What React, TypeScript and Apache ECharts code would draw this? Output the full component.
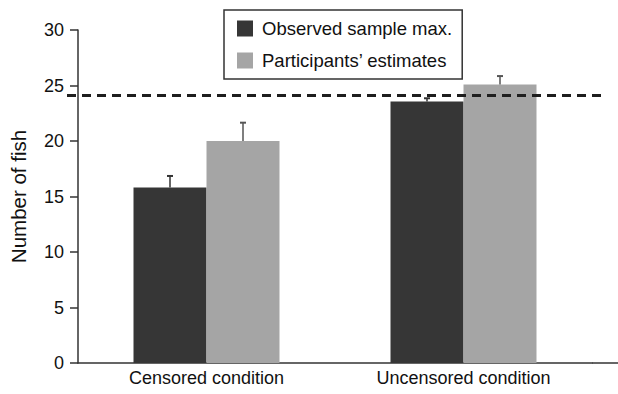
import React, { useEffect, useRef } from "react";
import * as echarts from "echarts";

const categories = ["Censored condition", "Uncensored condition"];
const observedMax = [15.8, 23.55];
const observedErr = [16.85, 23.85];
const estimates = [20.0, 25.1];
const estimatesErr = [21.65, 25.85];
const referenceLine = 24.1;
const yTicks = { min: 0, max: 30, interval: 5 };

const FONT = "'Liberation Sans', Arial, Helvetica, sans-serif";
const DARK = "#363636";
const LIGHT = "#a5a5a5";
const BAR_W = 73;

function errSeries(name: string, base: number[], tops: number[], sign: number, color: string) {
  return {
    type: "custom",
    name,
    xAxisIndex: 0,
    yAxisIndex: 0,
    z: 5,
    data: base.map((b, i) => [i, b, tops[i]]),
    renderItem: (_params: any, api: any) => {
      const x = api.value(0);
      const p1 = api.coord([x, api.value(1)]);
      const p2 = api.coord([x, api.value(2)]);
      const cx = p1[0] + sign * (BAR_W / 2);
      return {
        type: "group",
        children: [
          { type: "line", shape: { x1: cx, y1: p1[1], x2: cx, y2: p2[1] }, style: { stroke: color, lineWidth: 1.5 } },
          { type: "line", shape: { x1: cx - 3, y1: p2[1], x2: cx + 3, y2: p2[1] }, style: { stroke: color, lineWidth: 2 } },
        ],
      };
    },
  };
}

export default function App() {
  const ref = useRef<HTMLDivElement>(null);
  useEffect(() => {
    if (!ref.current) return;
    const chart = echarts.init(ref.current, null, { renderer: "svg" });
    chart.setOption({
      animation: false,
      backgroundColor: "#ffffff",
      textStyle: { fontFamily: FONT },
      grid: [
        { left: 77, right: 26, top: 30, bottom: 31 },
        { left: 67, right: 13, top: 30, bottom: 31 },
      ],
      legend: {
        orient: "vertical",
        left: 224,
        top: 10,
        padding: [9, 10, 9, 13],
        itemGap: 13,
        itemWidth: 16,
        itemHeight: 16,
        icon: "rect",
        borderColor: "#333",
        borderWidth: 1.5,
        backgroundColor: "#fff",
        textStyle: { fontSize: 18.5, color: "#111", fontFamily: FONT, padding: [0, 0, 0, 4] },
        data: ["Observed sample max.", "Participants\u2019 estimates"],
      },
      xAxis: [
        {
          type: "category",
          gridIndex: 0,
          data: categories,
          axisLine: { lineStyle: { color: "#333", width: 1.5 } },
          axisTick: { length: 9, lineStyle: { color: "#333", width: 1.5 } },
          axisLabel: { fontSize: 18, color: "#111", margin: 6, fontFamily: FONT },
        },
        { type: "value", gridIndex: 1, min: 0, max: 1, show: false },
      ],
      yAxis: [
        {
          type: "value",
          gridIndex: 0,
          min: yTicks.min,
          max: yTicks.max,
          interval: yTicks.interval,
          name: "Number of fish",
          nameLocation: "middle",
          nameRotate: 90,
          nameGap: 49,
          nameTextStyle: { fontSize: 20.5, color: "#111", fontFamily: FONT },
          axisLine: { show: true, lineStyle: { color: "#333", width: 1.5 } },
          axisTick: { show: true, length: 8, lineStyle: { color: "#333", width: 1.5 } },
          axisLabel: { fontSize: 18, color: "#111", margin: 14, fontFamily: FONT },
          splitLine: { show: false },
        },
        { type: "value", gridIndex: 1, min: yTicks.min, max: yTicks.max, show: false },
      ],
      series: [
        {
          type: "bar",
          name: "Observed sample max.",
          data: observedMax,
          barWidth: BAR_W,
          barGap: "0%",
          itemStyle: { color: DARK },
        },
        {
          type: "bar",
          name: "Participants\u2019 estimates",
          data: estimates,
          barWidth: BAR_W,
          barGap: "0%",
          itemStyle: { color: LIGHT },
        },
        errSeries("errObserved", observedMax, observedErr, -1, "#333"),
        errSeries("errEstimates", estimates, estimatesErr, 1, "#555"),
        {
          type: "line",
          name: "reference",
          xAxisIndex: 1,
          yAxisIndex: 1,
          data: [],
          z: 10,
          markLine: {
            silent: true,
            symbol: "none",
            label: { show: false },
            lineStyle: { type: [9, 6], width: 3, color: "#1e1e1e" },
            data: [{ yAxis: referenceLine }],
          },
        },
      ],
      graphic: [
        {
          type: "line",
          shape: { x1: 592, y1: 363, x2: 618, y2: 363 },
          style: { stroke: "#333", lineWidth: 1.5 },
        },
      ],
    });
    return () => chart.dispose();
  }, []);
  return <div ref={ref} style={{ position: "fixed", left: 0, top: 0, width: 618, height: 394 }} />;
}
